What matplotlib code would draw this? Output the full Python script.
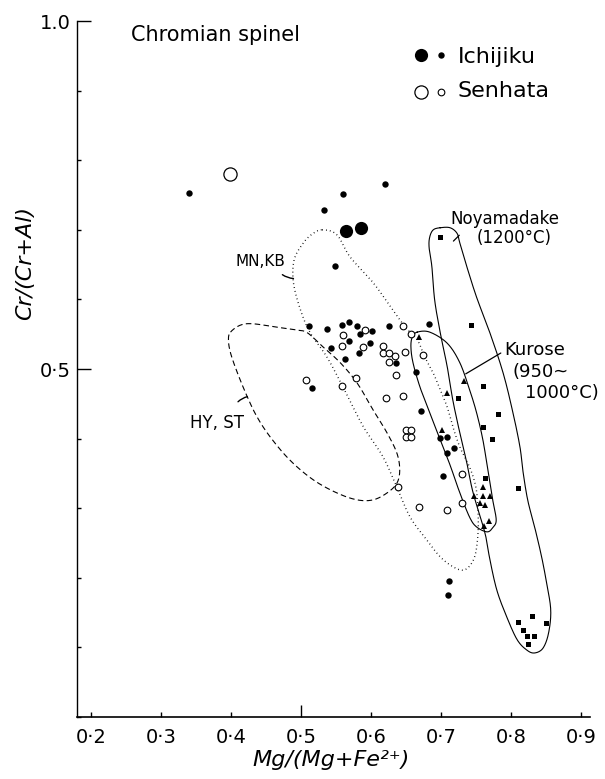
import numpy as np
import matplotlib
matplotlib.use("Agg")
import matplotlib.pyplot as plt

plt.rcParams["font.family"] = ["DejaVu Sans"]

# Ichijiku (filled circles), small and large symbols
ich_x = [0.339, 0.560, 0.620, 0.533, 0.548, 0.511, 0.537, 0.558, 0.568, 0.580,
         0.584, 0.601, 0.625, 0.569, 0.542, 0.599, 0.583, 0.563, 0.636, 0.516,
         0.683, 0.664, 0.672, 0.699, 0.709, 0.718, 0.708, 0.703, 0.711, 0.710]
ich_y = [0.753, 0.751, 0.766, 0.728, 0.648, 0.562, 0.557, 0.563, 0.567, 0.562,
         0.550, 0.555, 0.562, 0.540, 0.530, 0.537, 0.523, 0.515, 0.508, 0.472,
         0.565, 0.496, 0.439, 0.401, 0.402, 0.386, 0.380, 0.346, 0.196, 0.176]
ich_big_x = [0.564, 0.585]
ich_big_y = [0.698, 0.702]

# Senhata (open circles)
sen_x = [0.560, 0.591, 0.558, 0.588, 0.617, 0.617, 0.625, 0.634, 0.626, 0.636,
         0.578, 0.558, 0.507, 0.621, 0.639, 0.646, 0.657, 0.648, 0.675, 0.645,
         0.650, 0.657, 0.650, 0.657, 0.730, 0.669, 0.708, 0.730]
sen_y = [0.549, 0.556, 0.533, 0.532, 0.533, 0.523, 0.523, 0.519, 0.510, 0.491,
         0.487, 0.475, 0.484, 0.459, 0.331, 0.562, 0.551, 0.525, 0.520, 0.461,
         0.412, 0.412, 0.402, 0.402, 0.349, 0.302, 0.297, 0.308]
sen_big_x = [0.398]
sen_big_y = [0.780]

# Kurose (triangles) and Noyamadake (squares)
kur_x = [0.668, 0.733, 0.708, 0.701, 0.760, 0.747, 0.760, 0.770, 0.756, 0.763, 0.769, 0.761]
kur_y = [0.546, 0.483, 0.465, 0.412, 0.330, 0.318, 0.318, 0.318, 0.308, 0.305, 0.281, 0.274]
noy_x = [0.698, 0.743, 0.760, 0.724, 0.781, 0.760, 0.773, 0.763, 0.810,
         0.810, 0.830, 0.850, 0.818, 0.823, 0.833, 0.824]
noy_y = [0.689, 0.563, 0.476, 0.458, 0.436, 0.417, 0.400, 0.344, 0.329,
         0.136, 0.145, 0.135, 0.125, 0.116, 0.117, 0.105]

# field outlines
mnkb_x = [0.530, 0.551, 0.570, 0.603, 0.631, 0.649, 0.666, 0.677, 0.689, 0.699,
          0.709, 0.717, 0.727, 0.741, 0.750, 0.753, 0.753, 0.749, 0.741, 0.731,
          0.717, 0.699, 0.680, 0.656, 0.637, 0.617, 0.589, 0.560, 0.537, 0.513,
          0.499, 0.489, 0.490, 0.503, 0.516]
mnkb_y = [0.700, 0.693, 0.661, 0.624, 0.585, 0.560, 0.542, 0.517, 0.494, 0.470,
          0.445, 0.417, 0.388, 0.359, 0.330, 0.297, 0.264, 0.233, 0.217, 0.211,
          0.216, 0.230, 0.254, 0.287, 0.330, 0.374, 0.417, 0.474, 0.517, 0.552,
          0.585, 0.624, 0.657, 0.681, 0.694]
hyst_x = [0.399, 0.413, 0.431, 0.466, 0.494, 0.509, 0.531, 0.556, 0.580, 0.603,
          0.623, 0.637, 0.641, 0.637, 0.623, 0.603, 0.580, 0.551, 0.517, 0.484,
          0.456, 0.437, 0.423, 0.409, 0.399, 0.396]
hyst_y = [0.553, 0.563, 0.565, 0.560, 0.556, 0.552, 0.532, 0.509, 0.480, 0.441,
          0.408, 0.379, 0.355, 0.336, 0.322, 0.312, 0.312, 0.322, 0.341, 0.369,
          0.402, 0.431, 0.460, 0.494, 0.523, 0.542]
kuro_x = [0.666, 0.684, 0.709, 0.727, 0.741, 0.751, 0.760, 0.767, 0.774, 0.779,
          0.774, 0.766, 0.751, 0.741, 0.727, 0.713, 0.699, 0.684, 0.670, 0.660,
          0.657, 0.659]
kuro_y = [0.553, 0.553, 0.537, 0.509, 0.470, 0.437, 0.398, 0.355, 0.312, 0.283,
          0.272, 0.266, 0.273, 0.287, 0.322, 0.362, 0.398, 0.437, 0.474, 0.509,
          0.532, 0.546]
noya_x = [0.699, 0.713, 0.723, 0.727, 0.737, 0.751, 0.770, 0.789, 0.803, 0.813,
          0.817, 0.824, 0.834, 0.844, 0.851, 0.857, 0.854, 0.846, 0.834, 0.823,
          0.809, 0.794, 0.780, 0.770, 0.763, 0.746, 0.737, 0.727, 0.717, 0.709,
          0.699, 0.691, 0.687, 0.683, 0.684, 0.689]
noya_y = [0.703, 0.703, 0.695, 0.681, 0.647, 0.603, 0.552, 0.494, 0.437, 0.388,
          0.355, 0.312, 0.273, 0.230, 0.193, 0.154, 0.121, 0.099, 0.092, 0.096,
          0.111, 0.144, 0.182, 0.226, 0.264, 0.322, 0.365, 0.408, 0.455, 0.503,
          0.552, 0.599, 0.647, 0.675, 0.690, 0.700]

x_ticks = [0.2, 0.3, 0.4, 0.5, 0.6, 0.7, 0.8, 0.9]
x_labels = ["0·2", "0·3", "0·4", "0·5", "0·6", "0·7", "0·8", "0·9"]
y_ticks = [0.0, 0.1, 0.2, 0.3, 0.4, 0.5, 0.6, 0.7, 0.8, 0.9, 1.0]
y_labels = ["", "", "", "", "", "0·5", "", "", "", "", "1.0"]


def closed_curve(xs, ys, n=16):
    """Closed Catmull-Rom spline through the outline points."""
    p = np.column_stack([xs, ys])
    m = len(p)
    t = np.linspace(0, 1, n, endpoint=False)[:, None]
    segs = []
    for i in range(m):
        p0, p1, p2, p3 = p[i - 1], p[i], p[(i + 1) % m], p[(i + 2) % m]
        segs.append(0.5 * (2 * p1 + (p2 - p0) * t
                           + (2 * p0 - 5 * p1 + 4 * p2 - p3) * t ** 2
                           + (3 * p1 - p0 - 3 * p2 + p3) * t ** 3))
    segs.append(p[:1])
    c = np.vstack(segs)
    return c[:, 0], c[:, 1]


fig = plt.figure(figsize=(6.05, 7.79), dpi=100)
ax = fig.add_axes([0.128, 0.0796, 0.847, 0.8934])
ax.set_xlim(0.18, 0.913)
ax.set_ylim(0.0, 1.0)
for s in ("top", "right"):
    ax.spines[s].set_visible(False)
ax.spines["left"].set_linewidth(1.0)
ax.spines["bottom"].set_linewidth(1.2)

# outlines
lw = 0.8
cx, cy = closed_curve(mnkb_x, mnkb_y)
ax.plot(cx, cy, color="black", lw=1.0, linestyle=(0, (0.6, 2.2)))
cx, cy = closed_curve(hyst_x, hyst_y)
ax.plot(cx, cy, color="black", lw=lw, linestyle=(0, (5, 3)))
cx, cy = closed_curve(kuro_x, kuro_y)
ax.plot(cx, cy, color="black", lw=lw)
cx, cy = closed_curve(noya_x, noya_y)
ax.plot(cx, cy, color="black", lw=lw)

# data points
ax.plot(ich_x, ich_y, "o", color="black", ms=4.6, mew=0)
ax.plot(ich_big_x, ich_big_y, "o", color="black", ms=9.5, mew=0)
ax.plot(sen_x, sen_y, "o", mfc="white", mec="black", ms=4.8, mew=0.8)
ax.plot(sen_big_x, sen_big_y, "o", mfc="white", mec="black", ms=9.5, mew=0.9)
ax.plot(kur_x, kur_y, "^", color="black", ms=4.2, mew=0)
ax.plot(noy_x, noy_y, "s", color="black", ms=3.6, mew=0)

# field labels with leaders
ax.text(0.477, 0.654, "MN,KB", fontsize=11, ha="right", va="center")
ax.annotate("", xy=(0.493, 0.630), xytext=(0.470, 0.638),
            arrowprops=dict(arrowstyle="-", lw=1.0, connectionstyle="arc3,rad=0.2"))
ax.text(0.380, 0.423, "HY, ST", fontsize=12, ha="center", va="center")
ax.annotate("", xy=(0.427, 0.461), xytext=(0.407, 0.450),
            arrowprops=dict(arrowstyle="-", lw=1.0, connectionstyle="arc3,rad=-0.2"))
ax.text(0.791, 0.527, "Kurose", fontsize=13, ha="left", va="center")
ax.text(0.803, 0.496, "(950~", fontsize=13, ha="left", va="center")
ax.text(0.820, 0.465, "1000°C)", fontsize=13, ha="left", va="center")
ax.annotate("", xy=(0.732, 0.491), xytext=(0.789, 0.525),
            arrowprops=dict(arrowstyle="-", lw=0.9))
ax.text(0.713, 0.716, "Noyamadake", fontsize=12, ha="left", va="center")
ax.text(0.751, 0.688, "(1200°C)", fontsize=12, ha="left", va="center")
ax.annotate("", xy=(0.715, 0.681), xytext=(0.729, 0.695),
            arrowprops=dict(arrowstyle="-", lw=0.9))

# title and legend
ax.text(0.256, 0.980, "Chromian spinel", fontsize=15, ha="left", va="center")
ax.plot([0.671], [0.951], "o", color="black", ms=9.5, mew=0, clip_on=False)
ax.plot([0.700], [0.951], "o", color="black", ms=4.6, mew=0, clip_on=False)
ax.text(0.724, 0.949, "Ichijiku", fontsize=16, ha="left", va="center")
ax.plot([0.671], [0.898], "o", mfc="white", mec="black", ms=9.5, mew=0.9, clip_on=False)
ax.plot([0.700], [0.898], "o", mfc="white", mec="black", ms=4.8, mew=0.8, clip_on=False)
ax.text(0.724, 0.899, "Senhata", fontsize=16, ha="left", va="center")

# axes ticks and labels
ax.set_xticks(x_ticks)
ax.set_xticklabels(x_labels, fontsize=14)
ax.set_yticks(y_ticks)
ax.set_yticklabels(y_labels, fontsize=14)
ax.tick_params(axis="x", direction="in", length=3.5, width=1.0, pad=8)
ax.tick_params(axis="y", direction="in", length=3, width=1.0, pad=5)
ax.xaxis.get_major_ticks()[3].tick1line.set_markersize(9)
for i in (5, 10):
    ax.yaxis.get_major_ticks()[i].tick1line.set_markersize(10)

ax.set_xlabel("Mg/(Mg+Fe²⁺)", fontsize=16, style="italic", va="center")
ax.xaxis.set_label_coords(0.495, -0.062)
ax.set_ylabel("Cr/(Cr+Al)", fontsize=16, style="italic", va="center")
ax.yaxis.set_label_coords(-0.102, 0.652)

fig.savefig("out.png", dpi=100)
